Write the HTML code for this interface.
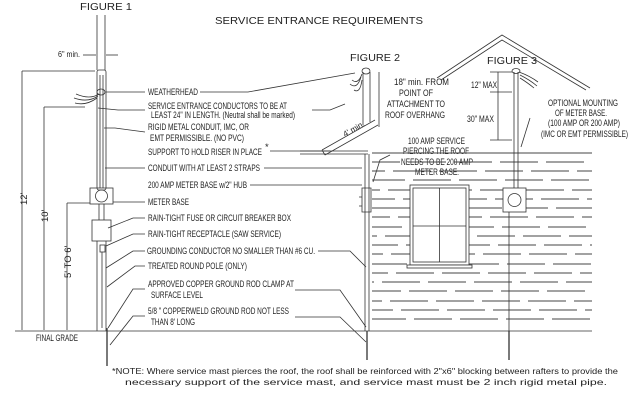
<!DOCTYPE html>
<html><head><meta charset="utf-8"><style>
html,body{margin:0;padding:0;background:#fff;}
svg{display:block}
text{font-family:"Liberation Sans",sans-serif;fill:#222;}
.l{font-size:9.5px;}
</style></head><body>
<svg width="640" height="400" viewBox="0 0 640 400" xmlns="http://www.w3.org/2000/svg" stroke="#333" stroke-width="0.8" fill="none">
<!-- titles -->
<text x="215" y="24" style="font-size:10.5px" textLength="208" lengthAdjust="spacingAndGlyphs" stroke="none">SERVICE ENTRANCE REQUIREMENTS</text>
<text x="80" y="10" style="font-size:10.5px" textLength="52" lengthAdjust="spacingAndGlyphs" stroke="none">FIGURE 1</text>
<text x="350" y="61" style="font-size:10.5px" textLength="50" lengthAdjust="spacingAndGlyphs" stroke="none">FIGURE 2</text>
<text x="487" y="64" style="font-size:10.5px" textLength="50" lengthAdjust="spacingAndGlyphs" stroke="none">FIGURE 3</text>

<!-- figure 1 pole -->
<line x1="97" y1="15" x2="97" y2="70"/><line x1="105" y1="15" x2="105" y2="70"/>
<text x="58" y="57" style="font-size:8px" textLength="22" lengthAdjust="spacingAndGlyphs" stroke="none">6" min.</text>
<line x1="83" y1="55" x2="96" y2="55"/><line x1="106" y1="55" x2="118" y2="55"/>
<rect x="97" y="70" width="9" height="120" rx="2"/>
<line x1="100" y1="75" x2="100" y2="188"/><line x1="103" y1="75" x2="103" y2="188"/>
<ellipse cx="101" cy="92" rx="4" ry="3"/>
<path d="M99 94 Q90 100 76 94 M98 96 Q88 103 74 98 M97 98 Q86 106 75 103"/>
<rect x="90" y="188" width="23" height="16"/>
<circle cx="101.5" cy="196" r="6"/>
<rect x="92" y="220" width="19" height="21"/>
<line x1="99" y1="204" x2="99" y2="220"/><line x1="104" y1="204" x2="104" y2="220"/>
<rect x="100" y="245" width="5" height="7"/>
<line x1="97" y1="241" x2="97" y2="331"/><line x1="106" y1="241" x2="106" y2="331"/>
<line x1="102" y1="252" x2="102" y2="328"/>
<line x1="107" y1="328" x2="107" y2="366" stroke-width="1.3"/>
<!-- dimension lines -->
<line x1="22" y1="71" x2="22" y2="330"/><line x1="22" y1="71" x2="95" y2="71"/>
<text x="0" y="0" transform="translate(27,205) rotate(-90)" stroke="none" style="font-size:9.5px">12'</text>
<line x1="44" y1="107" x2="44" y2="330"/><line x1="44" y1="107" x2="85" y2="107"/>
<text x="0" y="0" transform="translate(48,222) rotate(-90)" stroke="none" style="font-size:9.5px">10'</text>
<line x1="67" y1="203" x2="67" y2="330"/><line x1="67" y1="203" x2="90" y2="203"/>
<text x="0" y="0" transform="translate(71,278) rotate(-90)" stroke="none" style="font-size:9.5px">5' TO 6'</text>
<line x1="15" y1="331" x2="592" y2="331"/>
<text x="36" y="341" class="l" textLength="42" lengthAdjust="spacingAndGlyphs" stroke="none">FINAL GRADE</text>

<!-- labels -->
<g stroke="none" class="l">
<text x="148" y="95" textLength="50" lengthAdjust="spacingAndGlyphs">WEATHERHEAD</text>
<text x="148" y="109" textLength="139" lengthAdjust="spacingAndGlyphs">SERVICE ENTRANCE CONDUCTORS TO BE AT</text>
<text x="151" y="118" textLength="144" lengthAdjust="spacingAndGlyphs">LEAST 24" IN LENGTH. (Neutral shall be marked)</text>
<text x="148" y="130" textLength="101" lengthAdjust="spacingAndGlyphs">RIGID METAL CONDUIT, IMC, OR</text>
<text x="150" y="141" textLength="94" lengthAdjust="spacingAndGlyphs">EMT PERMISSIBLE.  (NO PVC)</text>
<text x="148" y="155" textLength="114" lengthAdjust="spacingAndGlyphs">SUPPORT TO HOLD RISER IN PLACE</text>
<text x="265" y="150">*</text>
<text x="148" y="171" textLength="112" lengthAdjust="spacingAndGlyphs">CONDUIT WITH AT LEAST 2 STRAPS</text>
<text x="148" y="188" textLength="99" lengthAdjust="spacingAndGlyphs">200 AMP METER BASE w/2" HUB</text>
<text x="148" y="205" textLength="41" lengthAdjust="spacingAndGlyphs">METER BASE</text>
<text x="148" y="221" textLength="143" lengthAdjust="spacingAndGlyphs">RAIN-TIGHT FUSE OR CIRCUIT BREAKER BOX</text>
<text x="148" y="237" textLength="133" lengthAdjust="spacingAndGlyphs">RAIN-TIGHT RECEPTACLE (SAW SERVICE)</text>
<text x="147" y="254" textLength="168" lengthAdjust="spacingAndGlyphs">GROUNDING CONDUCTOR NO SMALLER THAN #6 CU.</text>
<text x="148" y="269" textLength="99" lengthAdjust="spacingAndGlyphs">TREATED ROUND POLE (ONLY)</text>
<text x="148" y="287" textLength="146" lengthAdjust="spacingAndGlyphs">APPROVED COPPER GROUND ROD CLAMP AT</text>
<text x="151" y="298" textLength="52" lengthAdjust="spacingAndGlyphs">SURFACE LEVEL</text>
<text x="148" y="314" textLength="141" lengthAdjust="spacingAndGlyphs">5/8 " COPPERWELD GROUND ROD NOT LESS</text>
<text x="151" y="325" textLength="44" lengthAdjust="spacingAndGlyphs">THAN 8' LONG</text>
</g>
<!-- left leaders -->
<path d="M145 92 L106 92 M145 110 L118 110 L98 108 M145 132 L115 128 L104 128 M145 168 L105 168 M145 202 L113 202 M145 218 L133 218 L108 228 M145 234 L133 234 L106 246 M145 251 L133 251 L106 268 M145 266 L135 266 L107 287 M145 289 L133 289 L108 328 M145 316 L133 316 L110 345"/>
<!-- right leaders -->
<path d="M200 92 L248 92 L355 73 M312 110 L330 110 L345 104 M270 151 L330 151 M264 168 L362 168 M250 185 L362 185 M318 251 L350 251 L366 267 M295 290 L340 290 L366 327 M295 317 L340 317 L366 342"/>

<!-- figure 2 -->
<line x1="363" y1="72" x2="363" y2="125"/><line x1="370" y1="72" x2="370" y2="122"/>
<ellipse cx="366" cy="71" rx="4" ry="3"/>
<path d="M362 74 Q358 85 352 80 M361 77 Q357 90 350 84 M362 80 Q360 94 354 90"/>
<path d="M322 150 L375 120 M325 155 L378 125 M322 150 L325 155"/>
<line x1="379" y1="72" x2="379" y2="127"/>
<text x="345" y="137" transform="rotate(-30 345 137)" stroke="none" style="font-size:8px">4' min.</text>
<g stroke="none" class="l">
<text x="394" y="85" textLength="55" lengthAdjust="spacingAndGlyphs">18" min. FROM</text>
<text x="399" y="96" textLength="34" lengthAdjust="spacingAndGlyphs">POINT OF</text>
<text x="387" y="107" textLength="58" lengthAdjust="spacingAndGlyphs">ATTACHMENT TO</text>
<text x="385" y="118" textLength="60" lengthAdjust="spacingAndGlyphs">ROOF OVERHANG</text>
<text x="408" y="144" textLength="57" lengthAdjust="spacingAndGlyphs">100 AMP SERVICE</text>
<text x="403" y="154" textLength="66" lengthAdjust="spacingAndGlyphs">PIERCING THE ROOF</text>
<text x="401" y="165" textLength="72" lengthAdjust="spacingAndGlyphs">NEEDS TO BE 200 AMP</text>
<text x="415" y="175" textLength="44" lengthAdjust="spacingAndGlyphs">METER BASE.</text>
</g>
<line x1="300" y1="151" x2="368" y2="151"/><line x1="300" y1="154" x2="368" y2="154"/>
<line x1="365" y1="154" x2="365" y2="331"/><line x1="369" y1="154" x2="369" y2="331"/>
<path d="M362 188 H371 V212 H362 Z M359 197 H362 V206 H359"/>
<line x1="367" y1="331" x2="367" y2="360" stroke-width="1.3"/>
<path d="M373 182 L380 160 L390 155"/>

<!-- siding -->
<g stroke="#444" stroke-width="0.9" stroke-dasharray="38 8">
<line x1="372" y1="153" x2="592" y2="153" stroke-dasharray="none"/>
<line x1="372" y1="162" x2="592" y2="162" stroke-dashoffset="10"/>
<line x1="372" y1="171" x2="592" y2="171" stroke-dashoffset="25"/>
<line x1="372" y1="180" x2="592" y2="180" stroke-dashoffset="5"/>
<line x1="372" y1="190" x2="592" y2="190" stroke-dashoffset="30"/>
<line x1="372" y1="199" x2="592" y2="199" stroke-dashoffset="15"/>
<line x1="372" y1="208" x2="592" y2="208"/>
<line x1="372" y1="217" x2="592" y2="217" stroke-dashoffset="20"/>
<line x1="372" y1="227" x2="592" y2="227" stroke-dashoffset="8"/>
<line x1="372" y1="236" x2="592" y2="236" stroke-dashoffset="33"/>
<line x1="372" y1="245" x2="592" y2="245" stroke-dashoffset="12"/>
<line x1="372" y1="254" x2="592" y2="254" stroke-dashoffset="27"/>
<line x1="372" y1="264" x2="592" y2="264" stroke-dashoffset="3"/>
<line x1="372" y1="273" x2="592" y2="273" stroke-dashoffset="22"/>
<line x1="372" y1="282" x2="592" y2="282" stroke-dashoffset="36"/>
<line x1="372" y1="291" x2="592" y2="291" stroke-dashoffset="9"/>
<line x1="372" y1="301" x2="592" y2="301" stroke-dashoffset="28"/>
<line x1="372" y1="310" x2="592" y2="310" stroke-dashoffset="17"/>
<line x1="372" y1="319" x2="592" y2="319" stroke-dashoffset="4"/>
</g>
<!-- window -->
<rect x="410" y="185" width="59" height="80" fill="#fff"/>
<rect x="413" y="188" width="53" height="74" fill="#fff"/>
<line x1="439.5" y1="188" x2="439.5" y2="262"/><line x1="413" y1="226" x2="466" y2="226"/>
<rect x="407" y="265" width="65" height="3" fill="#fff"/>

<!-- figure 3 -->
<path d="M437 78 L502 35 L590 88 M441 80 L502 40 L586 90"/>
<line x1="514" y1="72" x2="514" y2="188"/><line x1="518" y1="72" x2="518" y2="188"/>
<ellipse cx="516" cy="71" rx="4" ry="2.5"/>
<path d="M519 72 Q530 76 538 82 M520 75 Q530 80 537 86 M520 78 Q528 83 534 88"/>
<line x1="498" y1="72" x2="498" y2="140"/>
<path d="M490 72 H512 M490 92 H512 M490 140 H512"/>
<text x="471" y="88" class="l" textLength="26" lengthAdjust="spacingAndGlyphs" stroke="none">12" MAX</text>
<text x="467" y="122" class="l" textLength="27" lengthAdjust="spacingAndGlyphs" stroke="none">30" MAX</text>
<rect x="503" y="188" width="23" height="24" fill="#fff"/>
<circle cx="514.5" cy="200" r="6.5"/>
<line x1="509" y1="212" x2="509" y2="331"/>
<line x1="509" y1="331" x2="509" y2="360" stroke-width="1.3"/>
<path d="M521 147 L530 118"/>
<g stroke="none" class="l">
<text x="548" y="106" textLength="70" lengthAdjust="spacingAndGlyphs">OPTIONAL MOUNTING</text>
<text x="555" y="116" textLength="52" lengthAdjust="spacingAndGlyphs">OF METER BASE.</text>
<text x="548" y="126" textLength="72" lengthAdjust="spacingAndGlyphs">(100 AMP OR 200 AMP)</text>
<text x="541" y="137" textLength="87" lengthAdjust="spacingAndGlyphs">(IMC OR EMT PERMISSIBLE)</text>
</g>

<!-- note -->
<g stroke="none" style="font-size:8.5px">
<text x="112" y="374" textLength="506" lengthAdjust="spacingAndGlyphs">*NOTE: Where service mast pierces the roof, the roof shall be reinforced with 2"x6" blocking between rafters to provide the</text>
<text x="125" y="385" textLength="482" lengthAdjust="spacingAndGlyphs">necessary support of the service mast, and service mast must be 2 inch rigid metal pipe.</text>
</g>
</svg>
</body></html>
